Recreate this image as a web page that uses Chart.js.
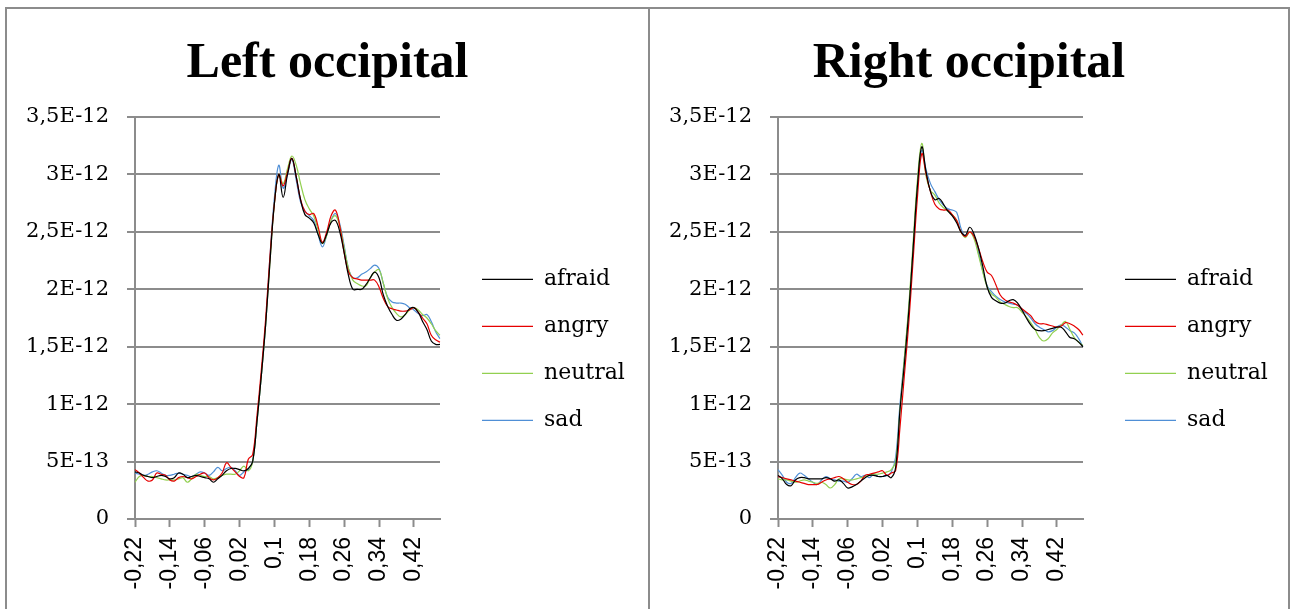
<!DOCTYPE html>
<html lang="en">
<head>
    <meta charset="UTF-8">
    <title>Left / Right occipital</title>
    <script src="https://cdn.jsdelivr.net/npm/chart.js"></script>
    <style>
        body {
            margin: 0;
            background: #fff;
            overflow: hidden;
        }
        .panel {
            position: absolute;
            top: 7px;
            height: 610px;
            border-top: 2px solid #8c8c8c;
            border-right: 2px solid #8c8c8c;
        }
        #p1 {
            left: 5px;
            width: 641px;
            border-left: 2px solid #8c8c8c;
        }
        #p2 {
            left: 650px;
            width: 638px;
        }
        canvas {
            display: block;
        }
    </style>
</head>
<body>
    <div class="panel" id="p1"><canvas id="leftChart" width="641" height="600"></canvas></div>
    <div class="panel" id="p2"><canvas id="rightChart" width="638" height="600"></canvas></div>

    <script>
        // time (s), one category every 0.01
        const categories = [-0.22, -0.21, -0.2, -0.19, -0.18, -0.17, -0.16, -0.15, -0.14, -0.13,
            -0.12, -0.11, -0.1, -0.09, -0.08, -0.07, -0.06, -0.05, -0.04, -0.03,
            -0.02, -0.01, 0, 0.01, 0.02, 0.03, 0.04, 0.05, 0.06, 0.07,
            0.08, 0.09, 0.1, 0.11, 0.12, 0.13, 0.14, 0.15, 0.16, 0.17,
            0.18, 0.19, 0.2, 0.21, 0.22, 0.23, 0.24, 0.25, 0.26, 0.27,
            0.28, 0.29, 0.3, 0.31, 0.32, 0.33, 0.34, 0.35, 0.36, 0.37,
            0.38, 0.39, 0.4, 0.41, 0.42, 0.43, 0.44, 0.45, 0.46, 0.47,
            0.48];
        const labelEvery = 8;

        const seriesNames = ["afraid", "angry", "neutral", "sad"];
        const seriesColors = ["#000000", "#e60000", "#92d050", "#4f8fd6"];

        // values in units of 1E-12
        const UNIT = 1e-12;

        const leftAfraid = [0.41, 0.40, 0.38, 0.37, 0.36, 0.37, 0.38, 0.37, 0.35, 0.36,
            0.40, 0.39, 0.36, 0.37, 0.38, 0.37, 0.36, 0.35, 0.32, 0.35,
            0.38, 0.42, 0.44, 0.44, 0.43, 0.42, 0.44, 0.50, 0.85, 1.25,
            1.70, 2.25, 2.75, 3.00, 2.80, 3.00, 3.14, 2.98, 2.78, 2.65,
            2.62, 2.58, 2.48, 2.40, 2.48, 2.58, 2.60, 2.50, 2.32, 2.12,
            2.00, 2.00, 2.00, 2.04, 2.10, 2.15, 2.10, 1.95, 1.85, 1.78,
            1.73, 1.74, 1.78, 1.83, 1.84, 1.80, 1.72, 1.65, 1.55, 1.52,
            1.52];
        const leftAngry = [0.43, 0.40, 0.36, 0.33, 0.34, 0.40, 0.39, 0.38, 0.34, 0.33,
            0.36, 0.37, 0.36, 0.35, 0.37, 0.39, 0.40, 0.36, 0.34, 0.36,
            0.40, 0.49, 0.45, 0.41, 0.37, 0.36, 0.52, 0.56, 0.90, 1.30,
            1.75, 2.30, 2.75, 3.00, 2.90, 3.02, 3.14, 2.98, 2.78, 2.68,
            2.65, 2.66, 2.55, 2.41, 2.50, 2.64, 2.69, 2.55, 2.32, 2.15,
            2.10, 2.09, 2.08, 2.08, 2.08, 2.08, 2.02, 1.92, 1.85, 1.83,
            1.82, 1.81, 1.81, 1.82, 1.84, 1.80, 1.75, 1.70, 1.60, 1.56,
            1.54];
        const leftNeutral = [0.32, 0.37, 0.38, 0.37, 0.37, 0.36, 0.35, 0.34, 0.34, 0.34,
            0.35, 0.36, 0.32, 0.35, 0.39, 0.38, 0.37, 0.37, 0.35, 0.36,
            0.38, 0.39, 0.39, 0.39, 0.42, 0.46, 0.42, 0.50, 0.85, 1.25,
            1.70, 2.25, 2.75, 3.00, 2.92, 3.05, 3.16, 3.08, 2.92, 2.78,
            2.70, 2.64, 2.52, 2.40, 2.47, 2.60, 2.64, 2.55, 2.36, 2.18,
            2.08, 2.05, 2.03, 2.03, 2.10, 2.15, 2.17, 2.05, 1.92, 1.84,
            1.79, 1.76, 1.78, 1.82, 1.84, 1.82, 1.78, 1.75, 1.70, 1.64,
            1.60];
        const leftSad = [0.40, 0.39, 0.38, 0.39, 0.41, 0.42, 0.40, 0.38, 0.38, 0.39,
            0.40, 0.39, 0.38, 0.37, 0.39, 0.41, 0.40, 0.38, 0.41, 0.45,
            0.42, 0.44, 0.45, 0.42, 0.38, 0.41, 0.43, 0.50, 0.85, 1.25,
            1.70, 2.30, 2.80, 3.08, 2.88, 3.00, 3.13, 2.95, 2.76, 2.68,
            2.64, 2.60, 2.48, 2.37, 2.47, 2.60, 2.66, 2.57, 2.38, 2.18,
            2.10, 2.10, 2.13, 2.15, 2.18, 2.21, 2.18, 2.05, 1.93, 1.89,
            1.88, 1.88, 1.87, 1.84, 1.82, 1.79, 1.77, 1.78, 1.72, 1.63,
            1.57];

        const rightAfraid = [0.38, 0.35, 0.30, 0.29, 0.34, 0.36, 0.36, 0.35, 0.35, 0.35,
            0.35, 0.36, 0.35, 0.33, 0.34, 0.31, 0.27, 0.28, 0.30, 0.33,
            0.36, 0.38, 0.38, 0.37, 0.37, 0.38, 0.36, 0.45, 0.95, 1.35,
            1.80, 2.35, 2.90, 3.24, 3.02, 2.85, 2.78, 2.79, 2.74, 2.68,
            2.64, 2.58, 2.50, 2.47, 2.54, 2.48, 2.36, 2.20, 2.02, 1.93,
            1.90, 1.88, 1.88, 1.90, 1.91, 1.88, 1.82, 1.75, 1.69, 1.65,
            1.64, 1.64, 1.65, 1.66, 1.67, 1.67, 1.63, 1.58, 1.57, 1.54,
            1.50];
        const rightAngry = [0.37, 0.36, 0.35, 0.34, 0.33, 0.32, 0.31, 0.30, 0.30, 0.30,
            0.32, 0.34, 0.35, 0.36, 0.37, 0.35, 0.32, 0.30, 0.30, 0.33,
            0.38, 0.39, 0.40, 0.41, 0.42, 0.38, 0.40, 0.42, 0.80, 1.25,
            1.70, 2.25, 2.80, 3.18, 3.00, 2.85, 2.74, 2.70, 2.69, 2.69,
            2.65, 2.60, 2.50, 2.46, 2.50, 2.46, 2.36, 2.24, 2.15, 2.12,
            2.04, 1.95, 1.91, 1.89, 1.88, 1.86, 1.83, 1.80, 1.77, 1.72,
            1.70, 1.70, 1.69, 1.68, 1.67, 1.68, 1.71, 1.70, 1.68, 1.65,
            1.60];
        const rightNeutral = [0.35, 0.34, 0.34, 0.33, 0.32, 0.33, 0.34, 0.33, 0.32, 0.31,
            0.32, 0.30, 0.27, 0.30, 0.35, 0.35, 0.34, 0.34, 0.35, 0.36,
            0.37, 0.38, 0.39, 0.39, 0.40, 0.41, 0.43, 0.50, 0.95, 1.40,
            1.85, 2.40, 2.95, 3.27, 2.98, 2.86, 2.82, 2.75, 2.71, 2.68,
            2.65, 2.60, 2.50, 2.45, 2.50, 2.44, 2.30, 2.15, 2.02, 1.96,
            1.93, 1.89, 1.87, 1.85, 1.84, 1.84, 1.80, 1.76, 1.71, 1.65,
            1.58, 1.55, 1.57, 1.62, 1.65, 1.69, 1.72, 1.65, 1.58, 1.54,
            1.51];
        const rightSad = [0.43, 0.38, 0.32, 0.31, 0.36, 0.40, 0.38, 0.35, 0.32, 0.30,
            0.34, 0.37, 0.35, 0.34, 0.33, 0.33, 0.32, 0.35, 0.39, 0.37,
            0.38, 0.36, 0.39, 0.37, 0.37, 0.38, 0.41, 0.54, 1.00, 1.40,
            1.82, 2.35, 2.90, 3.21, 3.04, 2.92, 2.85, 2.78, 2.73, 2.70,
            2.69, 2.67, 2.53, 2.46, 2.50, 2.46, 2.32, 2.16, 2.03, 1.98,
            1.94, 1.91, 1.89, 1.88, 1.87, 1.86, 1.82, 1.79, 1.75, 1.70,
            1.67, 1.65, 1.63, 1.64, 1.67, 1.69, 1.67, 1.64, 1.62, 1.57,
            1.50];

        const yTickValues = [0, 0.5e-12, 1e-12, 1.5e-12, 2e-12, 2.5e-12, 3e-12, 3.5e-12];
        const yTickLabels = ["0", "5E-13", "1E-12", "1,5E-12", "2E-12", "2,5E-12", "3E-12", "3,5E-12"];

        const gridGray = "#8c8c8c";
        const legendFont = { family: "DejaVu Serif", size: 22 };
        const legendLine = 51;
        const legendPad = 25;

        // natural width of the legend box, as Chart.js computes it
        function legendWidth() {
            const ctx = document.createElement("canvas").getContext("2d");
            ctx.font = legendFont.size + "px '" + legendFont.family + "'";
            const widest = Math.max(...seriesNames.map(n => ctx.measureText(n).width));
            return legendPad + legendLine + legendFont.size / 2 + widest + 10;
        }

        function makeChart(id, title, series) {
            const canvas = document.getElementById(id);
            // same padding both sides so the title stays centred on the panel
            const side = Math.max(0, canvas.width - 433 - 17 - legendWidth());

            return new Chart(canvas.getContext("2d"), {
                type: "line",
                data: {
                    labels: categories.map(c => String(c).replace(".", ",")),
                    datasets: series.map((values, i) => ({
                        label: seriesNames[i],
                        data: values.map(v => v * UNIT),
                        borderColor: seriesColors[i],
                        backgroundColor: seriesColors[i],
                        borderWidth: 1.2,
                        pointRadius: 0,
                        tension: 0.4,
                        fill: false
                    }))
                },
                options: {
                    responsive: false,
                    animation: false,
                    devicePixelRatio: 1,
                    layout: { padding: { left: side, top: 0, bottom: 0, right: side } },
                    plugins: {
                        tooltip: { enabled: false },
                        title: {
                            display: true,
                            text: title,
                            color: "#000",
                            font: { family: "Liberation Serif", size: 50, weight: "bold", lineHeight: 1.2 },
                            padding: { top: 25.5, bottom: 22.5 }
                        },
                        legend: {
                            position: "right",
                            maxWidth: 400,
                            title: { display: true, text: "", font: { size: 1 }, padding: { top: 80.4, bottom: 0 } },
                            labels: {
                                usePointStyle: true,
                                pointStyle: "line",
                                pointStyleWidth: legendLine,
                                padding: legendPad,
                                color: "#000",
                                font: legendFont
                            }
                        }
                    },
                    scales: {
                        x: {
                            type: "category",
                            offset: false,
                            grid: {
                                display: true,
                                drawOnChartArea: false,
                                drawTicks: true,
                                tickLength: 8,
                                tickWidth: 2,
                                tickColor: ctx => ctx.index % labelEvery === 0 ? gridGray : "rgba(0,0,0,0)"
                            },
                            border: { display: true, color: gridGray, width: 2 },
                            ticks: {
                                autoSkip: false,
                                minRotation: 90,
                                maxRotation: 90,
                                padding: 10,
                                color: "#000",
                                font: { family: "Liberation Sans", size: 23 },
                                callback: function (val, index) {
                                    return index % labelEvery === 0 ? this.getLabelForValue(val) : "";
                                }
                            },
                            afterFit: s => { s.height = 90; }
                        },
                        y: {
                            position: "left",
                            min: 0,
                            max: 3.5e-12,
                            afterBuildTicks: s => { s.ticks = yTickValues.map(v => ({ value: v })); },
                            grid: { color: gridGray, lineWidth: 2, tickLength: 8, drawTicks: true },
                            border: { display: true, color: gridGray, width: 2 },
                            ticks: {
                                padding: 18,
                                color: "#000",
                                font: { family: "DejaVu Serif", size: 21 },
                                callback: (value, index) => yTickLabels[index]
                            },
                            afterFit: s => { s.width = 128 - side; }
                        },
                        gap: {
                            type: "linear",
                            position: "right",
                            display: true,
                            grid: { display: false },
                            border: { display: false },
                            ticks: { display: false },
                            afterFit: s => { s.width = 17; }
                        }
                    }
                }
            });
        }

        makeChart("leftChart", "Left occipital", [leftAfraid, leftAngry, leftNeutral, leftSad]);
        makeChart("rightChart", "Right occipital", [rightAfraid, rightAngry, rightNeutral, rightSad]);
    </script>
</body>
</html>
